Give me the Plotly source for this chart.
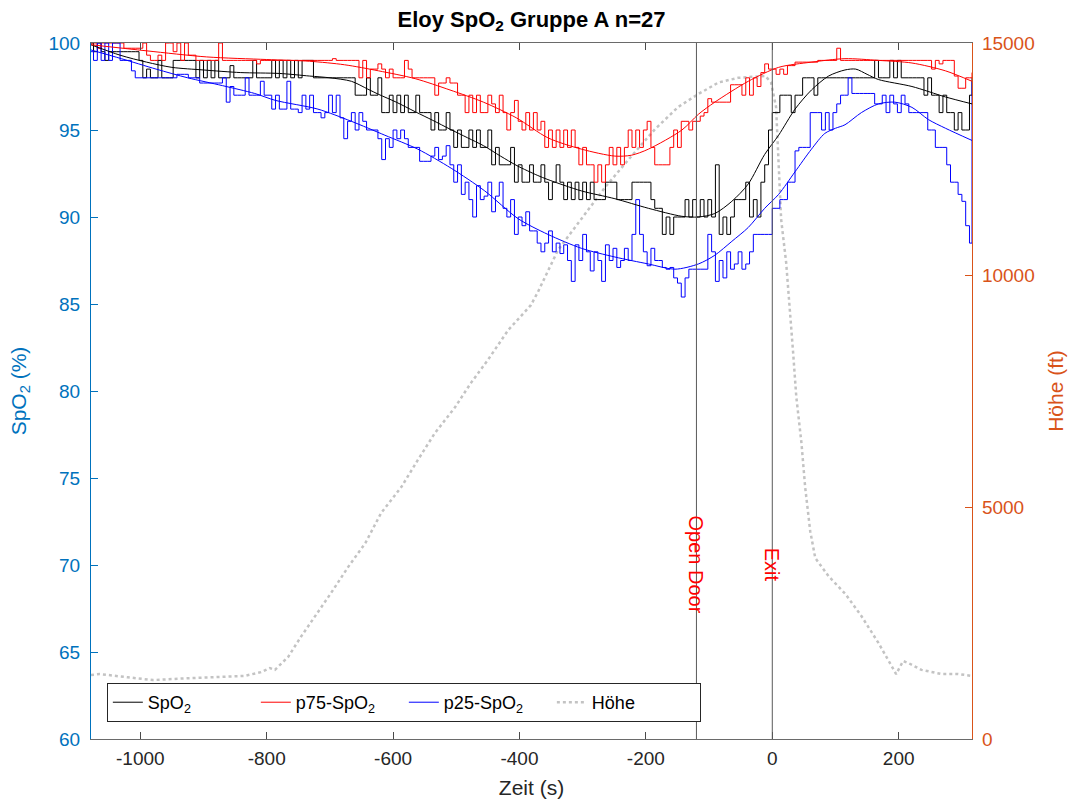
import plotly.graph_objects as go

# ---------------- data ----------------
# time grid of the 1-Hz traces (s), read every 6 s
t_raw = list(range(-1080, 313, 6)) + [316]

spo2_median = [
    100, 99.5, 100, 99.5, 99, 99.5, 99.5, 99.5, 99.5, 99.5,      # -1080
    99.5, 99.5, 99.5, 99, 98, 98.5, 98, 98, 99, 98,             # -1020
    98, 98, 99, 99, 99, 99, 99, 99, 98, 99,                     # -960
    98, 99, 98, 99, 98, 98, 98, 98.7, 98, 98,                   # -900
    98, 98, 98, 99, 98, 98, 98, 98, 99, 98,                     # -840
    99, 98, 99, 98, 99, 98, 99, 99, 99, 98,                     # -780
    98, 98, 98, 98, 98, 98, 98, 98, 98, 98,                     # -720
    97, 97, 97, 98, 97, 97, 98, 96, 96, 97,                     # -660
    96, 97, 96, 97, 96, 96, 97, 96, 96, 96,                     # -600
    95, 96, 95, 95, 96, 95, 94, 95, 94, 94,                     # -540
    95, 94, 95, 94, 94, 95, 93, 94, 93, 93,                     # -480
    93, 94, 92, 93, 92, 92, 93, 92, 92, 93,                     # -420
    92, 91, 92, 93, 92, 91, 92, 91, 92, 91,                     # -360
    92, 91, 92, 91, 91, 91, 92, 92, 92, 91,                     # -300
    91, 91, 91, 92, 92, 92, 92, 92, 91, 90.5,                   # -240
    90.5, 89, 90, 89, 90, 90, 90, 91, 90, 91,                   # -180
    90, 91, 90, 91, 90, 93, 89, 90, 89, 90,                     # -120
    91, 91, 91, 92, 90, 91, 90, 92, 93, 95,                     # -60
    96, 96, 97, 97, 97, 96, 97, 97, 98, 98,                     # 0
    98, 97, 98, 98, 98, 98, 98, 98, 98, 98,                     # 60
    98, 98, 98, 98, 98, 98, 98, 99, 98, 98,                     # 120
    98, 99, 98, 99, 98, 98, 98, 98, 98, 98,                     # 180
    97, 98, 97, 97, 96, 97, 96, 96, 95, 96,                     # 240
    95, 95, 97, 98,                                             # 300
]

spo2_p75 = [
    100, 100, 99.7, 100, 100, 100, 100, 100, 100, 99.7,
    99.7, 99.7, 99.7, 99.7, 100, 99.3, 99, 99, 99.3, 99,
    100, 100, 99.5, 100, 99, 100, 99.3, 99.3, 99, 99,
    99, 99, 99, 99, 100, 99, 99, 99, 99, 99,
    99, 99, 99, 99, 98.8, 99, 99, 99, 99, 99,
    99, 99, 99, 99, 99, 99, 99, 99, 99, 99,
    99, 99, 99, 99, 99.1, 99, 99, 99, 99, 99,
    99, 98, 99, 98, 98.5, 98.5, 98.8, 98.5, 98, 98.5,
    98, 98, 98, 99, 98.5, 98, 98, 98, 98, 98,
    98, 97, 97.7, 97.7, 98, 97.7, 97.7, 97, 97, 96,
    97, 96, 97, 96, 96, 97, 96.5, 96, 97, 96,
    95, 96, 96.7, 95.5, 95, 96, 95, 96, 95, 95.5,
    94, 95, 94, 95, 94, 95, 94, 95, 94, 93,
    94, 93, 93, 92, 93, 92, 93, 94, 93, 94,
    93, 94, 95, 94, 95, 94, 95, 95.5, 94, 93,
    93, 93, 93, 94, 95, 94, 95.5, 95.5, 95, 95.5,
    95.5, 95.8, 96, 96.8, 96.6, 96.6, 96.6, 96.6, 96.6, 97.6,
    97.6, 97.6, 97, 98, 97, 98, 97.5, 98.3, 98.8, 98.5,
    98.5, 98.2, 98.5, 98.2, 98.7, 98.7, 98.9, 98.9, 98.9, 98.9,
    98.9, 98.9, 99, 99, 99, 99, 99, 99.7, 99, 99,
    99, 99, 99, 99, 99, 99, 99, 99, 99, 99,
    99, 99, 99, 99, 99, 99, 99, 99, 99, 99,
    99, 99, 98.5, 99, 98.8, 99, 99, 99, 98.1, 97.4,
    97.4, 98, 98, 98.3,
]

spo2_p25 = [
    99.5, 99, 100, 99, 100, 99, 100, 100, 99, 99,
    99, 98.4, 98, 98, 98, 98, 98, 98, 98, 98,
    98, 98, 98, 98.2, 98.2, 98.2, 98, 98, 98, 97.7,
    97.7, 97.7, 97.7, 97.7, 97.7, 98, 96.6, 97.5, 97, 97,
    97, 98, 97, 97, 97, 97.8, 97, 97, 96.2, 97,
    96.2, 96.2, 97.8, 96.2, 96.2, 96, 97, 96.2, 97, 96,
    96, 95.7, 96, 97, 96, 97, 95.7, 94.5, 95.5, 96,
    95, 96, 95.5, 95, 95, 95, 94.5, 93.3, 94.5, 94,
    95, 94.5, 95, 94.5, 94, 94, 94, 93.2, 93.2, 93.2,
    93.5, 94, 93.3, 93.5, 94.1, 93, 92, 93, 91.3, 92,
    91, 90, 91.8, 91, 91.2, 92, 90.3, 91.2, 92, 90.5,
    90, 91, 89, 90, 89.5, 90.3, 89.2, 89.2, 88.5, 88,
    88.5, 89.2, 88, 88.5, 87.9, 88.4, 87.5, 86.3, 88.4, 87.5,
    89, 88, 86.9, 88, 87.5, 86.3, 88.4, 87.5, 88.2, 87.1,
    87.5, 88.2, 87.5, 89, 91, 89, 88, 87.2, 88.2, 87.5,
    87.5, 87.1, 87, 87.1, 86.5, 86.2, 85.4, 86.5, 87, 87,
    87, 87, 87, 89, 88, 86.3, 87.5, 86.5, 88, 87,
    87.3, 88, 87, 87.3, 88, 89, 89, 89, 89, 89,
    90.5, 90.5, 91, 91, 92, 92, 93.8, 94, 94, 94,
    96, 96, 96, 95, 96, 95, 96, 96.5, 97, 97,
    98, 97.1, 97.1, 97.1, 97.1, 97.1, 97.1, 96.5, 96.5, 97,
    96, 97, 96.5, 96, 97, 96.5, 96, 96, 96, 96,
    96, 95, 95, 94, 94, 94, 93, 92, 92, 91.3,
    90.9, 89.5, 88.5, 97.8,
]

# smoothed (fitted) curves
fit_t_median = [-1078, -1032, -990, -950, -900, -841, -780, -732, -700, -666, -640, -623,
                -595, -565, -537, -510, -482, -457, -430, -404, -372, -355, -302, -249,
                -196, -143, -117, -91, -64, -38, -12, 10, 36, 62, 89, 115, 132, 150, 168,
                221, 274, 316]
fit_median = [99.9, 99.3, 98.9, 98.6, 98.45, 98.3, 98.25, 98.1, 98.0, 97.8, 97.35, 97.05,
              96.6, 96.05, 95.55, 95.05, 94.55, 94.1, 93.5, 92.95, 92.4, 92.15, 91.5, 91.05,
              90.5, 90.04, 90.0, 90.2, 90.9, 91.9, 93.6, 94.7, 96.2, 97.3, 98.1, 98.45, 98.5,
              98.2, 97.9, 97.5, 96.9, 96.5]

fit_t_p75 = [-1078, -990, -895, -800, -732, -677, -623, -565, -510, -457, -405, -355, -302,
             -249, -223, -196, -143, -117, -91, -38, 10, 62, 115, 168, 221, 274, 316]
fit_p75 = [99.9, 99.55, 99.2, 99.05, 98.95, 98.75, 98.4, 97.95, 97.3, 96.6, 95.7, 94.55, 93.9,
           93.5, 93.55, 93.9, 95.0, 95.9, 96.6, 97.8, 98.6, 98.9, 99.1, 99.0, 98.85, 98.4, 97.8]

fit_t_p25 = [-1078, -1030, -975, -925, -870, -819, -786, -719, -666, -613, -561, -508, -455,
             -402, -355, -302, -249, -196, -154, -117, -91, -64, -38, -12, 10, 36, 62, 83,
             100, 115, 141, 168, 194, 221, 247, 274, 316]
fit_p25 = [99.6, 99.1, 98.5, 98.0, 97.55, 97.1, 96.7, 96.2, 95.5, 94.7, 93.9, 92.8, 91.5,
           89.9, 89.0, 88.2, 87.7, 87.3, 87.0, 87.3, 87.8, 88.6, 89.4, 90.5, 91.3, 92.6,
           93.9, 94.8, 95.1, 95.3, 96.0, 96.5, 96.6, 96.3, 95.6, 95.1, 94.4]

# altitude (ft)
hoehe_t = [-1078, -1064, -1020, -980, -925, -835, -809, -795, -787, -766, -746, -724, -698,
           -671, -644, -619, -587, -561, -534, -502, -477, -450, -418, -382, -371, -339,
           -302, -264, -223, -185, -149, -117, -85, -54, -11, -2, 6, 9, 14, 22, 28, 33, 38,
           46, 52, 60, 68, 89, 116, 141, 168, 188, 196, 207, 215, 236, 252, 268, 294, 316]
hoehe_ft = [1380, 1400, 1330, 1270, 1310, 1360, 1440, 1530, 1490, 1770, 2200, 2630, 3150,
            3710, 4220, 4870, 5430, 6010, 6590, 7150, 7670, 8170, 8810, 9350, 9630, 10540,
            11200, 11900, 12560, 13150, 13620, 13900, 14150, 14250, 14290, 14150, 13620,
            12650, 11200, 10260, 9290, 8320, 7370, 6400, 5430, 4480, 3900, 3510, 3120, 2650,
            2070, 1590, 1400, 1680, 1640, 1490, 1440, 1400, 1400, 1360]

event_t = [-120, 0]
event_labels = ["Open Door", "Exit"]
event_label_y = [70, 70]

x_ticks = [-1000, -800, -600, -400, -200, 0, 200]
x_ticktext = ["-1000", "-800", "-600", "-400", "-200", "0", "200"]
y_ticks = [60, 65, 70, 75, 80, 85, 90, 95, 100]
y2_ticks = [0, 5000, 10000, 15000]
y2_ticktext = ["0", "5000", "10000", "15000"]

# ---------------- figure ----------------
FONT = "Liberation Sans, Arial, Helvetica, sans-serif"
BLUE_AX = "#0072BD"
ORANGE_AX = "#D95319"
DARK = "#262626"

fig = go.Figure()

# altitude on the (right-hand) base axis so that it is drawn underneath
fig.add_trace(go.Scatter(x=hoehe_t, y=hoehe_ft, mode="lines", name="Höhe", yaxis="y",
                         line=dict(color="#c3c3c3", width=2.5, dash="dot"),
                         legendrank=4))

series = [
    ("SpO<sub>2</sub>", spo2_median, fit_t_median, fit_median, "#000000", 1),
    ("p75-SpO<sub>2</sub>", spo2_p75, fit_t_p75, fit_p75, "#ff0000", 2),
    ("p25-SpO<sub>2</sub>", spo2_p25, fit_t_p25, fit_p25, "#0000ff", 3),
]
for name, vals, ft, fv, col, rank in series:
    fig.add_trace(go.Scatter(x=t_raw, y=vals, mode="lines", name=name, yaxis="y2",
                             line=dict(color=col, width=1, shape="hv"), legendrank=rank))
for name, vals, ft, fv, col, rank in series:
    fig.add_trace(go.Scatter(x=ft, y=fv, mode="lines", showlegend=False, yaxis="y2",
                             line=dict(color=col, width=1, shape="spline", smoothing=0.8),
                             hoverinfo="skip"))

shapes = []
annotations = []
for et, lab, ly in zip(event_t, event_labels, event_label_y):
    shapes.append(dict(type="line", xref="x", yref="paper", x0=et, x1=et, y0=0, y1=1,
                       line=dict(color="#5a5a5a", width=1)))
    annotations.append(dict(x=et, y=ly, xref="x", yref="y2", text=lab, textangle=90,
                            showarrow=False, xanchor="center", yanchor="middle",
                            font=dict(color="#ff0000", size=20, family=FONT)))

fig.update_layout(
    width=1075, height=805,
    margin=dict(l=91, r=103, t=43, b=66),
    paper_bgcolor="white", plot_bgcolor="white",
    font=dict(family=FONT, color=DARK),
    title=dict(text="<b>Eloy SpO<sub>2</sub> Gruppe A n=27</b>", x=0.5, xref="paper",
               y=1 - 19 / 805, yref="container", yanchor="middle", xanchor="center",
               font=dict(size=22, color="#000000", family=FONT)),
    xaxis=dict(range=[-1078, 316], tickvals=x_ticks, ticktext=x_ticktext, ticks="inside",
               ticklen=7, showline=True, mirror="ticks", linecolor="#6a6a6a",
               tickcolor="#4a4a4a", linewidth=1, tickfont=dict(size=19, color=DARK),
               showgrid=False, zeroline=False, ticklabelstandoff=2, automargin=False,
               title=dict(text="Zeit (s)", font=dict(size=21, color=DARK), standoff=12)),
    yaxis=dict(side="right", range=[0, 15000], tickvals=y2_ticks, ticktext=y2_ticktext,
               ticks="inside", ticklen=7, showline=True, linecolor=ORANGE_AX,
               tickcolor=ORANGE_AX, linewidth=1.2, tickfont=dict(size=19, color=ORANGE_AX),
               showgrid=False, zeroline=False, anchor="x", ticklabelstandoff=5,
               automargin=False,
               title=dict(text="Höhe (ft)", font=dict(size=21, color=ORANGE_AX), standoff=14)),
    yaxis2=dict(side="left", overlaying="y", range=[60, 100], tickvals=y_ticks,
                ticks="inside", ticklen=7, showline=True, linecolor=BLUE_AX,
                tickcolor=BLUE_AX, linewidth=1.2, tickfont=dict(size=19, color=BLUE_AX),
                showgrid=False, zeroline=False, anchor="x", ticklabelstandoff=6,
                automargin=False,
                title=dict(text="SpO<sub>2</sub> (%)", font=dict(size=21, color=BLUE_AX),
                           standoff=16)),
    legend=dict(orientation="h", x=0.018, y=0.0244, xanchor="left", yanchor="bottom",
                bgcolor="white", bordercolor=DARK, borderwidth=1,
                entrywidth=103, entrywidthmode="pixels",
                font=dict(size=18, color="#000000", family=FONT)),
    shapes=shapes,
    annotations=annotations,
    showlegend=True,
)

fig.write_html("out.html")
